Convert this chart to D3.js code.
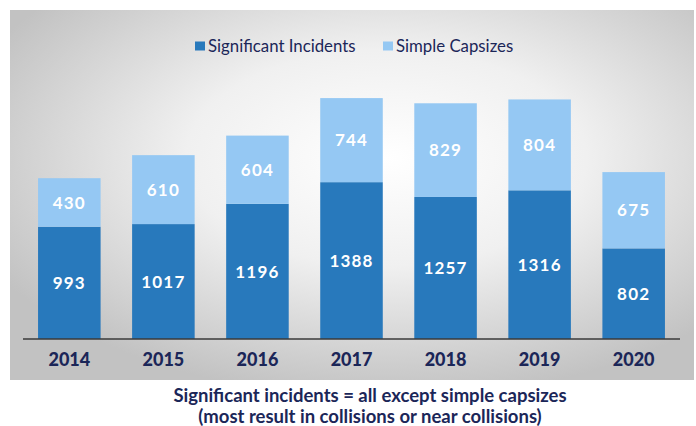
<!DOCTYPE html>
<html>
<head>
<meta charset="utf-8">
<script src="https://cdn.jsdelivr.net/npm/d3@7"></script>
<style>
  body { margin: 0; background: #fff; }
  svg { display: block; }
</style>
</head>
<body>
<div id="chart"></div>
<script>
// data
var years = ["2014", "2015", "2016", "2017", "2018", "2019", "2020"];
var significant = [993, 1017, 1196, 1388, 1257, 1316, 802];
var capsizes = [430, 610, 604, 744, 829, 804, 675];
var seriesNames = ["Significant Incidents", "Simple Capsizes"];
var captionLines = ["Significant incidents = all except simple capsizes",
                    "(most result in collisions or near collisions)"];

var width = 696, height = 426;
var colour = d3.scaleOrdinal().domain(seriesNames).range(["#2879bc", "#95c8f3"]);
var navy = "#1b2658";
var font = "Lato, 'Open Sans', sans-serif";

var svg = d3.select("#chart")
.append("svg")
.attr("width", width)
.attr("height", height);

// gray radial panel behind the chart
var grad = svg.append("defs")
.append("radialGradient")
.attr("id", "panel")
.attr("cx", "55%").attr("cy", "40%").attr("r", "65%");
grad.append("stop").attr("offset", "0%").attr("stop-color", "#ffffff");
grad.append("stop").attr("offset", "45%").attr("stop-color", "#f0f0f0");
grad.append("stop").attr("offset", "100%").attr("stop-color", "#c2c2c2");

svg.append("rect")
.attr("x", 10).attr("y", 10)
.attr("width", 684).attr("height", 370)
.attr("fill", "url(#panel)");

var x = d3.scaleBand()
.domain(years)
.range([23, 680])
.paddingInner(0.335)
.paddingOuter(0.16);

var y = d3.scaleLinear()
.domain([0, 2500])
.range([339, 56.5]);

var rows = years.map(function(yr, i) {
    return {year: yr, "Significant Incidents": significant[i], "Simple Capsizes": capsizes[i]};
});
var stacked = d3.stack().keys(seriesNames)(rows);

var layer = svg.selectAll(".layer")
.data(stacked)
.enter()
.append("g")
.attr("class", "layer")
.attr("fill", function(d) { return colour(d.key); });

layer.selectAll("rect")
.data(function(d) { return d; })
.enter()
.append("rect")
.attr("x", function(d) { return x(d.data.year); })
.attr("y", function(d) { return y(d[1]); })
.attr("width", x.bandwidth())
.attr("height", function(d) { return y(d[0]) - y(d[1]); });

layer.selectAll("text")
.data(function(d) { return d; })
.enter()
.append("text")
.attr("x", function(d) { return x(d.data.year) + x.bandwidth() / 2; })
.attr("y", function(d) { return (y(d[0]) + y(d[1])) / 2; })
.attr("dy", "0.36em")
.attr("text-anchor", "middle")
.attr("fill", "#fff")
.style("font-family", font)
.style("font-weight", "bold")
.style("font-size", "17px")
.style("letter-spacing", "1.2px")
.text(function(d) { return d[1] - d[0]; });

// x axis
var xAxis = svg.append("g")
.attr("transform", "translate(0,339)")
.call(d3.axisBottom(x).tickSize(0).tickPadding(14));
xAxis.select(".domain")
.attr("d", "M23,0H680")
.attr("stroke", "#3a3a3a")
.attr("stroke-width", 1.5);
xAxis.selectAll("text")
.attr("fill", navy)
.style("font-family", font)
.style("font-weight", "900")
.style("font-size", "18px");

// legend
var legendX = [195, 383];
var legend = svg.selectAll(".legend")
.data(seriesNames)
.enter()
.append("g")
.attr("class", "legend")
.attr("transform", function(d, i) { return "translate(" + legendX[i] + ",46)"; });
legend.append("rect")
.attr("x", 0).attr("y", -4.5)
.attr("width", 10).attr("height", 9)
.attr("fill", function(d) { return colour(d); });
legend.append("text")
.attr("x", 13)
.attr("dy", "0.35em")
.attr("fill", navy)
.style("font-family", font)
.style("font-size", "16.8px")
.text(function(d) { return d; });

// caption under the panel
svg.selectAll(".caption")
.data(captionLines)
.enter()
.append("text")
.attr("class", "caption")
.attr("x", 370)
.attr("y", function(d, i) { return 396 + i * 20.5; })
.attr("dy", "0.35em")
.attr("text-anchor", "middle")
.attr("fill", navy)
.style("font-family", font)
.style("font-weight", "bold")
.style("font-size", "18.5px")
.text(function(d) { return d; });
</script>
</body>
</html>
